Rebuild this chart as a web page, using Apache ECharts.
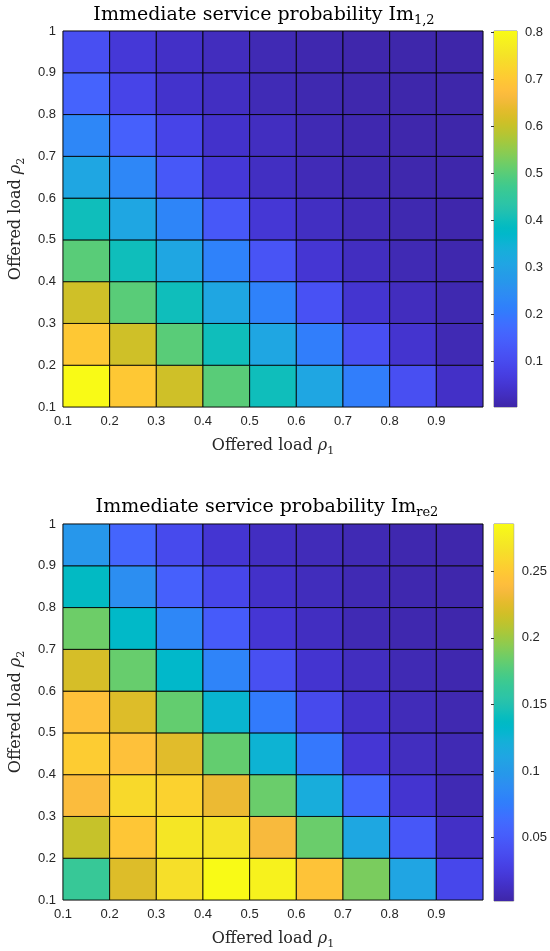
<!DOCTYPE html>
<html><head><meta charset="utf-8">
<script src="https://cdn.jsdelivr.net/npm/echarts@6/dist/echarts.min.js"></script>
<style>html,body{margin:0;padding:0;background:#fff}#c{width:550px;height:951px}</style>
</head><body><div id="c"></div>
<script>
// ---- data ----
const rho1 = [0.1, 0.2, 0.3, 0.4, 0.5, 0.6, 0.7, 0.8, 0.9];
const rho2 = [0.1, 0.2, 0.3, 0.4, 0.5, 0.6, 0.7, 0.8, 0.9];
// rows: rho2 = 0.1 (bottom) ... 0.9 (top); columns: rho1 = 0.1 ... 0.9
const im12 = [
  [0.80, 0.70, 0.61, 0.50, 0.40, 0.31, 0.21, 0.11, 0.035],
  [0.70, 0.61, 0.50, 0.40, 0.31, 0.21, 0.11, 0.045, 0.015],
  [0.61, 0.50, 0.40, 0.31, 0.22, 0.115, 0.047, 0.025, 0.010],
  [0.50, 0.40, 0.31, 0.22, 0.12, 0.050, 0.027, 0.015, 0.008],
  [0.40, 0.31, 0.226, 0.13, 0.053, 0.030, 0.018, 0.010, 0.006],
  [0.31, 0.23, 0.13, 0.055, 0.030, 0.018, 0.010, 0.007, 0.005],
  [0.23, 0.147, 0.085, 0.040, 0.028, 0.015, 0.009, 0.006, 0.004],
  [0.155, 0.085, 0.042, 0.030, 0.017, 0.010, 0.007, 0.005, 0.004],
  [0.11, 0.055, 0.035, 0.025, 0.015, 0.009, 0.006, 0.005, 0.003]
];
const imre2 = [
  [0.164, 0.223, 0.265, 0.285, 0.279, 0.245, 0.189, 0.110, 0.034],
  [0.214, 0.247, 0.270, 0.268, 0.236, 0.184, 0.113, 0.047, 0.014],
  [0.238, 0.261, 0.256, 0.230, 0.184, 0.119, 0.059, 0.018, 0.007],
  [0.252, 0.243, 0.225, 0.182, 0.126, 0.072, 0.020, 0.011, 0.007],
  [0.243, 0.223, 0.182, 0.128, 0.074, 0.036, 0.015, 0.009, 0.006],
  [0.220, 0.183, 0.133, 0.081, 0.041, 0.018, 0.011, 0.007, 0.005],
  [0.185, 0.134, 0.083, 0.050, 0.020, 0.012, 0.007, 0.005, 0.004],
  [0.137, 0.090, 0.054, 0.033, 0.015, 0.010, 0.007, 0.005, 0.004],
  [0.097, 0.058, 0.036, 0.019, 0.012, 0.009, 0.007, 0.005, 0.004]
];
const xTickVals = [0.1, 0.2, 0.3, 0.4, 0.5, 0.6, 0.7, 0.8, 0.9];
const yTickVals = [0.1, 0.2, 0.3, 0.4, 0.5, 0.6, 0.7, 0.8, 0.9, 1];
const cb1Ticks = [0.1, 0.2, 0.3, 0.4, 0.5, 0.6, 0.7, 0.8];
const cb2Ticks = [0.05, 0.1, 0.15, 0.2, 0.25];
const cb1Range = [0.002, 0.803];
const cb2Range = [0.0025, 0.2855];
const axisRange = [0.1, 1.0];
const cellStep = 0.1;

// ---- style ----
const parula = ['#3e26a8','#402ab4','#422ec0','#4332cb','#4537d5','#463cde','#4741e5','#4747eb','#484df0','#4852f4','#4758f8','#465efb','#4563fd','#4269fe','#3e6fff','#3875fe','#327cfc','#2f81fa','#2e87f7','#2d8cf3','#2b91ef','#2797eb','#259be8','#23a0e5','#20a5e3','#1ca9df','#18addb','#12b1d6','#08b5d0','#01b8ca','#02bac3','#0bbdbd','#19bfb6','#24c1ae','#2cc4a7','#31c69f','#37c897','#3fca8e','#4acb84','#57cc7a','#64cd6f','#72cd64','#81cc59','#8fcb4e','#9dc943','#abc739','#b9c431','#c5c22a','#d1bf27','#dcbd29','#e6bb2d','#f0ba36','#f8ba3d','#febe3c','#fec338','#fec934','#fccf30','#fad62d','#f7dc2a','#f5e327','#f5e924','#f6ef20','#f7f51b','#f9fb15'];
const SERIF = 'DejaVu Serif';
const SANS = 'Liberation Sans';
const TXT = '#262626';

function toCells(M) {
  const out = [];
  for (let r = 0; r < rho2.length; r++)
    for (let c = 0; c < rho1.length; c++) out.push([rho1[c], rho2[r], M[r][c]]);
  return out;
}
function cellRender(params, api) {
  const x = api.value(0), y = api.value(1);
  const p0 = api.coord([x, y]);
  const p1 = api.coord([x + cellStep, y + cellStep]);
  return { type: 'rect',
    shape: { x: p0[0], y: p1[1], width: p1[0] - p0[0], height: p0[1] - p1[1] },
    style: { fill: api.visual('color'), stroke: 'rgba(0,0,0,0.85)', lineWidth: 1 } };
}
function barRender(params, api) {
  const p0 = api.coord([0, api.value(1)]);
  const p1 = api.coord([1, api.value(2)]);
  const stops = parula.map((c, i) => ({ offset: i / (parula.length - 1), color: c }));
  return { type: 'rect',
    shape: { x: p0[0], y: p1[1], width: p1[0] - p0[0], height: p0[1] - p1[1] },
    style: { fill: new echarts.graphic.LinearGradient(0, 1, 0, 0, stops) } };
}
const nameRich = {
  n: { fontFamily: SERIF, fontSize: 16, color: TXT, verticalAlign: 'top' },
  i: { fontFamily: SERIF, fontSize: 16, fontStyle: 'italic', color: TXT, verticalAlign: 'top' },
  s: { fontFamily: SERIF, fontSize: 11, color: TXT, verticalAlign: 'top', padding: [8, 0, 0, 0] }
};
function mainX(gi) {
  return { type: 'value', gridIndex: gi, min: axisRange[0], max: axisRange[1],
    axisLine: { show: false }, axisTick: { show: false }, splitLine: { show: false },
    axisLabel: { customValues: xTickVals, color: TXT, fontFamily: SANS, fontSize: 13, margin: 8 },
    name: '{n|Offered load }{i|ρ}{s|1}', nameLocation: 'middle', nameGap: 31,
    nameTextStyle: { rich: nameRich } };
}
function mainY(gi) {
  return { type: 'value', gridIndex: gi, min: axisRange[0], max: axisRange[1],
    axisLine: { show: false }, axisTick: { show: false }, splitLine: { show: false },
    axisLabel: { customValues: yTickVals, color: TXT, fontFamily: SANS, fontSize: 13, margin: 7 },
    name: '{n|Offered load }{i|ρ}{s|2}', nameLocation: 'middle', nameGap: 33,
    nameTextStyle: { rich: nameRich } };
}
function cbX(gi) {
  return { type: 'value', gridIndex: gi, min: 0, max: 1, show: false };
}
function cbY(gi, range, ticks) {
  return { type: 'value', gridIndex: gi, position: 'right', min: range[0], max: range[1],
    axisLine: { show: false }, splitLine: { show: false },
    axisTick: { show: true, inside: true, length: 3, customValues: ticks, lineStyle: { color: '#333' } },
    axisLabel: { customValues: ticks, color: TXT, fontFamily: SANS, fontSize: 13, margin: 8 } };
}
const titleRich = {
  n: { fontFamily: SERIF, fontSize: 19, fontWeight: 'normal', color: '#000', verticalAlign: 'top' },
  s: { fontFamily: SERIF, fontSize: 13, fontWeight: 'normal', color: '#000', verticalAlign: 'top', padding: [8, 0, 0, 0] }
};

const chart = echarts.init(document.getElementById('c'), null, { renderer: 'canvas' });
chart.setOption({
  animation: false,
  backgroundColor: '#fff',
  title: [
    { text: '{n|Immediate service probability Im}{s|1,2}', left: 259, top: 1, textAlign: 'center', textStyle: { fontWeight: 'normal', rich: titleRich } },
    { text: '{n|Immediate service probability Im}{s|re2}', left: 262, top: 493, textAlign: 'center', textStyle: { fontWeight: 'normal', rich: titleRich } }
  ],
  grid: [
    { left: 62, top: 31, width: 421, height: 376, show: true, borderColor: '#aaa', borderWidth: 1 },
    { left: 494, top: 31, width: 23, height: 376, show: true, borderColor: '#888', borderWidth: 1 },
    { left: 62, top: 524, width: 421, height: 377, show: true, borderColor: '#aaa', borderWidth: 1 },
    { left: 494, top: 524, width: 23, height: 377, show: true, borderColor: '#888', borderWidth: 1 }
  ],
  xAxis: [mainX(0), cbX(1), mainX(2), cbX(3)],
  yAxis: [mainY(0), cbY(1, cb1Range, cb1Ticks), mainY(2), cbY(3, cb2Range, cb2Ticks)],
  visualMap: [
    { type: 'continuous', show: false, seriesIndex: 0, dimension: 2, min: cb1Range[0], max: cb1Range[1], inRange: { color: parula } },
    { type: 'continuous', show: false, seriesIndex: 2, dimension: 2, min: cb2Range[0], max: cb2Range[1], inRange: { color: parula } }
  ],
  series: [
    { type: 'custom', xAxisIndex: 0, yAxisIndex: 0, renderItem: cellRender, encode: { x: 0, y: 1 }, data: toCells(im12) },
    { type: 'custom', xAxisIndex: 1, yAxisIndex: 1, renderItem: barRender, encode: { x: 0, y: [1, 2] }, data: [[0, cb1Range[0], cb1Range[1]]], silent: true },
    { type: 'custom', xAxisIndex: 2, yAxisIndex: 2, renderItem: cellRender, encode: { x: 0, y: 1 }, data: toCells(imre2) },
    { type: 'custom', xAxisIndex: 3, yAxisIndex: 3, renderItem: barRender, encode: { x: 0, y: [1, 2] }, data: [[0, cb2Range[0], cb2Range[1]]], silent: true }
  ]
});
</script></body></html>
